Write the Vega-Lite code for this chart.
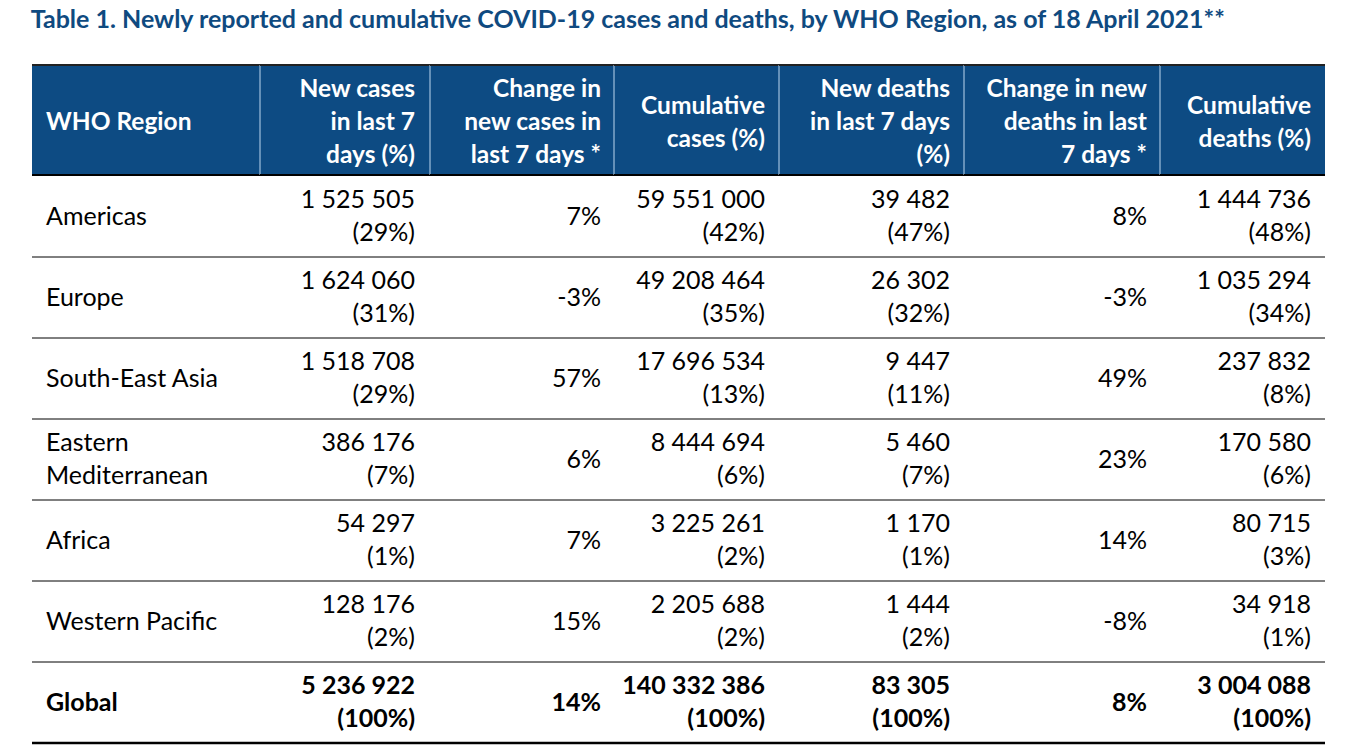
{
  "$schema": "https://vega.github.io/schema/vega-lite/v6.json",
  "padding": {"left": 30, "top": 8, "right": 0, "bottom": 0},
  "background": "white",
  "title": {"text": "Table 1. Newly reported and cumulative COVID-19 cases and deaths, by WHO Region, as of 18 April 2021**", "anchor": "start", "font": "Lato", "fontSize": 25, "fontWeight": "bold", "color": "#0F4A80", "offset": 31},
  "config": {
    "view": {"stroke": null},
    "concat": {"spacing": 0},
    "locale": {"number": {"decimal": ".", "thousands": " ", "grouping": [3], "currency": ["", ""], "minus": "-"}},
    "text": {"font": "Lato", "fontSize": 25, "color": "#000000", "baseline": "middle"}
  },
  "datasets": {
    "header": [
      {"col": "region", "label": "WHO Region"},
      {"col": "new_cases", "label": "New cases\nin last 7\ndays (%)"},
      {"col": "change_cases", "label": "Change in\nnew cases in\nlast 7 days *"},
      {"col": "cum_cases", "label": "Cumulative\ncases (%)"},
      {"col": "new_deaths", "label": "New deaths\nin last 7 days\n(%)"},
      {"col": "change_deaths", "label": "Change in new\ndeaths in last\n7 days *"},
      {"col": "cum_deaths", "label": "Cumulative\ndeaths (%)"}
    ],
    "table": [
      {"region": "Americas", "new_cases": 1525505, "new_cases_pct": "(29%)", "change_cases": 0.07, "cum_cases": 59551000, "cum_cases_pct": "(42%)", "new_deaths": 39482, "new_deaths_pct": "(47%)", "change_deaths": 0.08, "cum_deaths": 1444736, "cum_deaths_pct": "(48%)"},
      {"region": "Europe", "new_cases": 1624060, "new_cases_pct": "(31%)", "change_cases": -0.03, "cum_cases": 49208464, "cum_cases_pct": "(35%)", "new_deaths": 26302, "new_deaths_pct": "(32%)", "change_deaths": -0.03, "cum_deaths": 1035294, "cum_deaths_pct": "(34%)"},
      {"region": "South-East Asia", "new_cases": 1518708, "new_cases_pct": "(29%)", "change_cases": 0.57, "cum_cases": 17696534, "cum_cases_pct": "(13%)", "new_deaths": 9447, "new_deaths_pct": "(11%)", "change_deaths": 0.49, "cum_deaths": 237832, "cum_deaths_pct": "(8%)"},
      {"region": "Eastern\nMediterranean", "new_cases": 386176, "new_cases_pct": "(7%)", "change_cases": 0.06, "cum_cases": 8444694, "cum_cases_pct": "(6%)", "new_deaths": 5460, "new_deaths_pct": "(7%)", "change_deaths": 0.23, "cum_deaths": 170580, "cum_deaths_pct": "(6%)"},
      {"region": "Africa", "new_cases": 54297, "new_cases_pct": "(1%)", "change_cases": 0.07, "cum_cases": 3225261, "cum_cases_pct": "(2%)", "new_deaths": 1170, "new_deaths_pct": "(1%)", "change_deaths": 0.14, "cum_deaths": 80715, "cum_deaths_pct": "(3%)"},
      {"region": "Western Pacific", "new_cases": 128176, "new_cases_pct": "(2%)", "change_cases": 0.15, "cum_cases": 2205688, "cum_cases_pct": "(2%)", "new_deaths": 1444, "new_deaths_pct": "(2%)", "change_deaths": -0.08, "cum_deaths": 34918, "cum_deaths_pct": "(1%)"},
      {"region": "Global", "new_cases": 5236922, "new_cases_pct": "(100%)", "change_cases": 0.14, "cum_cases": 140332386, "cum_cases_pct": "(100%)", "new_deaths": 83305, "new_deaths_pct": "(100%)", "change_deaths": 0.08, "cum_deaths": 3004088, "cum_deaths_pct": "(100%)"}
    ]
  },
  "spacing": 0,
  "vconcat": [
    {
      "spacing": 0,
      "bounds": "flush",
      "hconcat": [
        {"width": 228, "height": 110, "data": {"name": "header"}, "transform": [{"filter": "datum.col === 'region'"}], "view": {"fill": "#0D4B83", "stroke": null},
         "layer": [
           {"mark": {"type": "text", "align": "left", "dx": 14, "dy": 3, "lineBreak": "\n", "lineHeight": 33, "fontSize": 24.5, "fontWeight": "bold", "color": "#FFFFFF"}, "encoding": {"text": {"field": "label", "type": "nominal"}, "x": {"datum": 0, "scale": {"domain": [0, 1]}, "axis": null}}},
           {"mark": {"type": "rule", "color": "#000000", "strokeWidth": 2}, "encoding": {"y": {"datum": 0, "scale": {"domain": [0, 1]}, "axis": null}}},
           {"mark": {"type": "rule", "color": "#222222", "strokeWidth": 2}, "encoding": {"y": {"datum": 1, "scale": {"domain": [0, 1]}, "axis": null}}}
         ]},
        {"width": 170, "height": 110, "data": {"name": "header"}, "transform": [{"filter": "datum.col === 'new_cases'"}], "view": {"fill": "#0D4B83", "stroke": null},
         "layer": [
           {"mark": {"type": "text", "align": "right", "dx": -15, "dy": -30, "lineBreak": "\n", "lineHeight": 33, "fontSize": 24.5, "fontWeight": "bold", "color": "#FFFFFF"}, "encoding": {"text": {"field": "label", "type": "nominal"}, "x": {"datum": 1, "scale": {"domain": [0, 1]}, "axis": null}}},
           {"mark": {"type": "rule", "color": "#BDD7EE", "strokeWidth": 1}, "encoding": {"x": {"datum": 0, "scale": {"domain": [0, 1]}, "axis": null}}},
           {"mark": {"type": "rule", "color": "#000000", "strokeWidth": 2}, "encoding": {"y": {"datum": 0, "scale": {"domain": [0, 1]}, "axis": null}}},
           {"mark": {"type": "rule", "color": "#222222", "strokeWidth": 2}, "encoding": {"y": {"datum": 1, "scale": {"domain": [0, 1]}, "axis": null}}}
         ]},
        {"width": 184, "height": 110, "data": {"name": "header"}, "transform": [{"filter": "datum.col === 'change_cases'"}], "view": {"fill": "#0D4B83", "stroke": null},
         "layer": [
           {"mark": {"type": "text", "align": "right", "dx": -13, "dy": -30, "lineBreak": "\n", "lineHeight": 33, "fontSize": 24.5, "fontWeight": "bold", "color": "#FFFFFF"}, "encoding": {"text": {"field": "label", "type": "nominal"}, "x": {"datum": 1, "scale": {"domain": [0, 1]}, "axis": null}}},
           {"mark": {"type": "rule", "color": "#BDD7EE", "strokeWidth": 1}, "encoding": {"x": {"datum": 0, "scale": {"domain": [0, 1]}, "axis": null}}},
           {"mark": {"type": "rule", "color": "#000000", "strokeWidth": 2}, "encoding": {"y": {"datum": 0, "scale": {"domain": [0, 1]}, "axis": null}}},
           {"mark": {"type": "rule", "color": "#222222", "strokeWidth": 2}, "encoding": {"y": {"datum": 1, "scale": {"domain": [0, 1]}, "axis": null}}}
         ]},
        {"width": 165, "height": 110, "data": {"name": "header"}, "transform": [{"filter": "datum.col === 'cum_cases'"}], "view": {"fill": "#0D4B83", "stroke": null},
         "layer": [
           {"mark": {"type": "text", "align": "right", "dx": -14, "dy": -13.5, "lineBreak": "\n", "lineHeight": 33, "fontSize": 24.5, "fontWeight": "bold", "color": "#FFFFFF"}, "encoding": {"text": {"field": "label", "type": "nominal"}, "x": {"datum": 1, "scale": {"domain": [0, 1]}, "axis": null}}},
           {"mark": {"type": "rule", "color": "#BDD7EE", "strokeWidth": 1}, "encoding": {"x": {"datum": 0, "scale": {"domain": [0, 1]}, "axis": null}}},
           {"mark": {"type": "rule", "color": "#000000", "strokeWidth": 2}, "encoding": {"y": {"datum": 0, "scale": {"domain": [0, 1]}, "axis": null}}},
           {"mark": {"type": "rule", "color": "#222222", "strokeWidth": 2}, "encoding": {"y": {"datum": 1, "scale": {"domain": [0, 1]}, "axis": null}}}
         ]},
        {"width": 185, "height": 110, "data": {"name": "header"}, "transform": [{"filter": "datum.col === 'new_deaths'"}], "view": {"fill": "#0D4B83", "stroke": null},
         "layer": [
           {"mark": {"type": "text", "align": "right", "dx": -14, "dy": -30, "lineBreak": "\n", "lineHeight": 33, "fontSize": 24.5, "fontWeight": "bold", "color": "#FFFFFF"}, "encoding": {"text": {"field": "label", "type": "nominal"}, "x": {"datum": 1, "scale": {"domain": [0, 1]}, "axis": null}}},
           {"mark": {"type": "rule", "color": "#BDD7EE", "strokeWidth": 1}, "encoding": {"x": {"datum": 0, "scale": {"domain": [0, 1]}, "axis": null}}},
           {"mark": {"type": "rule", "color": "#000000", "strokeWidth": 2}, "encoding": {"y": {"datum": 0, "scale": {"domain": [0, 1]}, "axis": null}}},
           {"mark": {"type": "rule", "color": "#222222", "strokeWidth": 2}, "encoding": {"y": {"datum": 1, "scale": {"domain": [0, 1]}, "axis": null}}}
         ]},
        {"width": 196, "height": 110, "data": {"name": "header"}, "transform": [{"filter": "datum.col === 'change_deaths'"}], "view": {"fill": "#0D4B83", "stroke": null},
         "layer": [
           {"mark": {"type": "text", "align": "right", "dx": -13, "dy": -30, "lineBreak": "\n", "lineHeight": 33, "fontSize": 24.5, "fontWeight": "bold", "color": "#FFFFFF"}, "encoding": {"text": {"field": "label", "type": "nominal"}, "x": {"datum": 1, "scale": {"domain": [0, 1]}, "axis": null}}},
           {"mark": {"type": "rule", "color": "#BDD7EE", "strokeWidth": 1}, "encoding": {"x": {"datum": 0, "scale": {"domain": [0, 1]}, "axis": null}}},
           {"mark": {"type": "rule", "color": "#000000", "strokeWidth": 2}, "encoding": {"y": {"datum": 0, "scale": {"domain": [0, 1]}, "axis": null}}},
           {"mark": {"type": "rule", "color": "#222222", "strokeWidth": 2}, "encoding": {"y": {"datum": 1, "scale": {"domain": [0, 1]}, "axis": null}}}
         ]},
        {"width": 165, "height": 110, "data": {"name": "header"}, "transform": [{"filter": "datum.col === 'cum_deaths'"}], "view": {"fill": "#0D4B83", "stroke": null},
         "layer": [
           {"mark": {"type": "text", "align": "right", "dx": -14, "dy": -13.5, "lineBreak": "\n", "lineHeight": 33, "fontSize": 24.5, "fontWeight": "bold", "color": "#FFFFFF"}, "encoding": {"text": {"field": "label", "type": "nominal"}, "x": {"datum": 1, "scale": {"domain": [0, 1]}, "axis": null}}},
           {"mark": {"type": "rule", "color": "#BDD7EE", "strokeWidth": 1}, "encoding": {"x": {"datum": 0, "scale": {"domain": [0, 1]}, "axis": null}}},
           {"mark": {"type": "rule", "color": "#000000", "strokeWidth": 2}, "encoding": {"y": {"datum": 0, "scale": {"domain": [0, 1]}, "axis": null}}},
           {"mark": {"type": "rule", "color": "#222222", "strokeWidth": 2}, "encoding": {"y": {"datum": 1, "scale": {"domain": [0, 1]}, "axis": null}}}
         ]}
      ]
    },
    {
      "spacing": 0,
      "bounds": "flush",
      "data": {"name": "table"},
      "hconcat": [
        {"width": 228, "height": 567,
         "encoding": {"y": {"field": "region", "type": "nominal", "sort": null, "scale": {"domain": ["Americas", "Europe", "South-East Asia", "Eastern\nMediterranean", "Africa", "Western Pacific", "Global"], "paddingInner": 0, "paddingOuter": 0}, "axis": null}},
         "layer": [
           {"mark": {"type": "text", "align": "left", "dx": 14, "lineBreak": "\n", "lineHeight": 33, "dy": {"expr": "indexof(datum.region, '\\n') >= 0 ? -16.5 : 0"}, "fontWeight": {"expr": "datum.region === 'Global' ? 'bold' : 'normal'"}}, "encoding": {"text": {"field": "region", "type": "nominal"}, "x": {"datum": 0, "scale": {"domain": [0, 1]}, "axis": null}}},
           {"transform": [{"filter": "datum.region !== 'Global'"}], "mark": {"type": "rule", "color": "#000000", "strokeWidth": 1}, "encoding": {"y": {"field": "region", "type": "nominal", "bandPosition": 1, "axis": null}}},
           {"transform": [{"filter": "datum.region === 'Global'"}], "mark": {"type": "rule", "color": "#000000", "strokeWidth": 2.5}, "encoding": {"y": {"field": "region", "type": "nominal", "bandPosition": 1, "axis": null}}}
         ]},
        {"width": 170, "height": 567,
         "encoding": {"y": {"field": "region", "type": "nominal", "sort": null, "scale": {"domain": ["Americas", "Europe", "South-East Asia", "Eastern\nMediterranean", "Africa", "Western Pacific", "Global"], "paddingInner": 0, "paddingOuter": 0}, "axis": null}},
         "layer": [
           {"mark": {"type": "text", "align": "right", "dx": -15, "dy": -16.5, "fontWeight": {"expr": "datum.region === 'Global' ? 'bold' : 'normal'"}}, "encoding": {"text": {"field": "new_cases", "type": "quantitative", "format": ",d"}, "x": {"datum": 1, "scale": {"domain": [0, 1]}, "axis": null}}},
           {"mark": {"type": "text", "align": "right", "dx": -15, "dy": 16.5, "fontWeight": {"expr": "datum.region === 'Global' ? 'bold' : 'normal'"}}, "encoding": {"text": {"field": "new_cases_pct", "type": "nominal"}, "x": {"datum": 1, "scale": {"domain": [0, 1]}, "axis": null}}},
           {"transform": [{"filter": "datum.region !== 'Global'"}], "mark": {"type": "rule", "color": "#000000", "strokeWidth": 1}, "encoding": {"y": {"field": "region", "type": "nominal", "bandPosition": 1, "axis": null}}},
           {"transform": [{"filter": "datum.region === 'Global'"}], "mark": {"type": "rule", "color": "#000000", "strokeWidth": 2.5}, "encoding": {"y": {"field": "region", "type": "nominal", "bandPosition": 1, "axis": null}}}
         ]},
        {"width": 184, "height": 567,
         "encoding": {"y": {"field": "region", "type": "nominal", "sort": null, "scale": {"domain": ["Americas", "Europe", "South-East Asia", "Eastern\nMediterranean", "Africa", "Western Pacific", "Global"], "paddingInner": 0, "paddingOuter": 0}, "axis": null}},
         "layer": [
           {"mark": {"type": "text", "align": "right", "dx": -13, "fontWeight": {"expr": "datum.region === 'Global' ? 'bold' : 'normal'"}}, "encoding": {"text": {"field": "change_cases", "type": "quantitative", "format": ".0%"}, "x": {"datum": 1, "scale": {"domain": [0, 1]}, "axis": null}}},
           {"transform": [{"filter": "datum.region !== 'Global'"}], "mark": {"type": "rule", "color": "#000000", "strokeWidth": 1}, "encoding": {"y": {"field": "region", "type": "nominal", "bandPosition": 1, "axis": null}}},
           {"transform": [{"filter": "datum.region === 'Global'"}], "mark": {"type": "rule", "color": "#000000", "strokeWidth": 2.5}, "encoding": {"y": {"field": "region", "type": "nominal", "bandPosition": 1, "axis": null}}}
         ]},
        {"width": 165, "height": 567,
         "encoding": {"y": {"field": "region", "type": "nominal", "sort": null, "scale": {"domain": ["Americas", "Europe", "South-East Asia", "Eastern\nMediterranean", "Africa", "Western Pacific", "Global"], "paddingInner": 0, "paddingOuter": 0}, "axis": null}},
         "layer": [
           {"mark": {"type": "text", "align": "right", "dx": -14, "dy": -16.5, "fontWeight": {"expr": "datum.region === 'Global' ? 'bold' : 'normal'"}}, "encoding": {"text": {"field": "cum_cases", "type": "quantitative", "format": ",d"}, "x": {"datum": 1, "scale": {"domain": [0, 1]}, "axis": null}}},
           {"mark": {"type": "text", "align": "right", "dx": -14, "dy": 16.5, "fontWeight": {"expr": "datum.region === 'Global' ? 'bold' : 'normal'"}}, "encoding": {"text": {"field": "cum_cases_pct", "type": "nominal"}, "x": {"datum": 1, "scale": {"domain": [0, 1]}, "axis": null}}},
           {"transform": [{"filter": "datum.region !== 'Global'"}], "mark": {"type": "rule", "color": "#000000", "strokeWidth": 1}, "encoding": {"y": {"field": "region", "type": "nominal", "bandPosition": 1, "axis": null}}},
           {"transform": [{"filter": "datum.region === 'Global'"}], "mark": {"type": "rule", "color": "#000000", "strokeWidth": 2.5}, "encoding": {"y": {"field": "region", "type": "nominal", "bandPosition": 1, "axis": null}}}
         ]},
        {"width": 185, "height": 567,
         "encoding": {"y": {"field": "region", "type": "nominal", "sort": null, "scale": {"domain": ["Americas", "Europe", "South-East Asia", "Eastern\nMediterranean", "Africa", "Western Pacific", "Global"], "paddingInner": 0, "paddingOuter": 0}, "axis": null}},
         "layer": [
           {"mark": {"type": "text", "align": "right", "dx": -14, "dy": -16.5, "fontWeight": {"expr": "datum.region === 'Global' ? 'bold' : 'normal'"}}, "encoding": {"text": {"field": "new_deaths", "type": "quantitative", "format": ",d"}, "x": {"datum": 1, "scale": {"domain": [0, 1]}, "axis": null}}},
           {"mark": {"type": "text", "align": "right", "dx": -14, "dy": 16.5, "fontWeight": {"expr": "datum.region === 'Global' ? 'bold' : 'normal'"}}, "encoding": {"text": {"field": "new_deaths_pct", "type": "nominal"}, "x": {"datum": 1, "scale": {"domain": [0, 1]}, "axis": null}}},
           {"transform": [{"filter": "datum.region !== 'Global'"}], "mark": {"type": "rule", "color": "#000000", "strokeWidth": 1}, "encoding": {"y": {"field": "region", "type": "nominal", "bandPosition": 1, "axis": null}}},
           {"transform": [{"filter": "datum.region === 'Global'"}], "mark": {"type": "rule", "color": "#000000", "strokeWidth": 2.5}, "encoding": {"y": {"field": "region", "type": "nominal", "bandPosition": 1, "axis": null}}}
         ]},
        {"width": 196, "height": 567,
         "encoding": {"y": {"field": "region", "type": "nominal", "sort": null, "scale": {"domain": ["Americas", "Europe", "South-East Asia", "Eastern\nMediterranean", "Africa", "Western Pacific", "Global"], "paddingInner": 0, "paddingOuter": 0}, "axis": null}},
         "layer": [
           {"mark": {"type": "text", "align": "right", "dx": -13, "fontWeight": {"expr": "datum.region === 'Global' ? 'bold' : 'normal'"}}, "encoding": {"text": {"field": "change_deaths", "type": "quantitative", "format": ".0%"}, "x": {"datum": 1, "scale": {"domain": [0, 1]}, "axis": null}}},
           {"transform": [{"filter": "datum.region !== 'Global'"}], "mark": {"type": "rule", "color": "#000000", "strokeWidth": 1}, "encoding": {"y": {"field": "region", "type": "nominal", "bandPosition": 1, "axis": null}}},
           {"transform": [{"filter": "datum.region === 'Global'"}], "mark": {"type": "rule", "color": "#000000", "strokeWidth": 2.5}, "encoding": {"y": {"field": "region", "type": "nominal", "bandPosition": 1, "axis": null}}}
         ]},
        {"width": 165, "height": 567,
         "encoding": {"y": {"field": "region", "type": "nominal", "sort": null, "scale": {"domain": ["Americas", "Europe", "South-East Asia", "Eastern\nMediterranean", "Africa", "Western Pacific", "Global"], "paddingInner": 0, "paddingOuter": 0}, "axis": null}},
         "layer": [
           {"mark": {"type": "text", "align": "right", "dx": -14, "dy": -16.5, "fontWeight": {"expr": "datum.region === 'Global' ? 'bold' : 'normal'"}}, "encoding": {"text": {"field": "cum_deaths", "type": "quantitative", "format": ",d"}, "x": {"datum": 1, "scale": {"domain": [0, 1]}, "axis": null}}},
           {"mark": {"type": "text", "align": "right", "dx": -14, "dy": 16.5, "fontWeight": {"expr": "datum.region === 'Global' ? 'bold' : 'normal'"}}, "encoding": {"text": {"field": "cum_deaths_pct", "type": "nominal"}, "x": {"datum": 1, "scale": {"domain": [0, 1]}, "axis": null}}},
           {"transform": [{"filter": "datum.region !== 'Global'"}], "mark": {"type": "rule", "color": "#000000", "strokeWidth": 1}, "encoding": {"y": {"field": "region", "type": "nominal", "bandPosition": 1, "axis": null}}},
           {"transform": [{"filter": "datum.region === 'Global'"}], "mark": {"type": "rule", "color": "#000000", "strokeWidth": 2.5}, "encoding": {"y": {"field": "region", "type": "nominal", "bandPosition": 1, "axis": null}}}
         ]}
      ]
    }
  ]
}
